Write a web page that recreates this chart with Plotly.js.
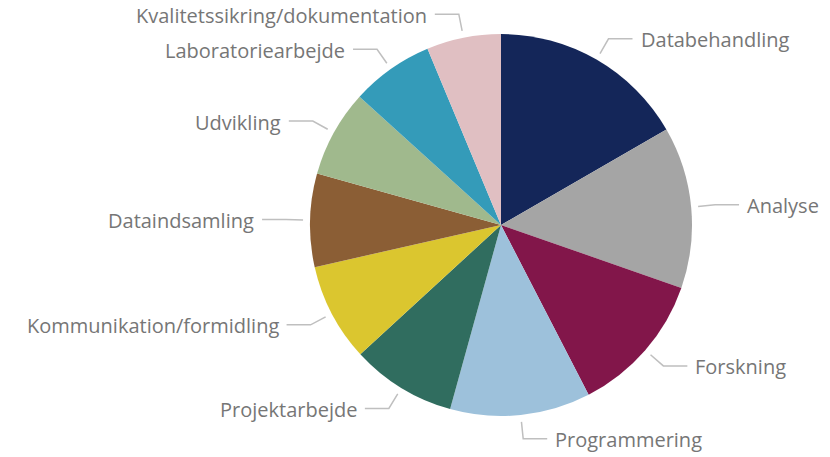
<!DOCTYPE html>
<html>
<head>
<meta charset="utf-8">
<script src="https://cdn.plot.ly/plotly-3.0.1.min.js"></script>
<style>
  html, body { margin: 0; padding: 0; background: #fff; }
  #chart { width: 830px; height: 457px; }
</style>
</head>
<body>
<div id="chart"></div>
<script>
// Kategorier og andele (aflæst fra figuren, i procent)
const kategorier = [
  'Databehandling', 'Analyse', 'Forskning', 'Programmering', 'Projektarbejde',
  'Kommunikation/formidling', 'Dataindsamling', 'Udvikling',
  'Laboratoriearbejde', 'Kvalitetssikring/dokumentation'
];
const andele = [16.7, 13.7, 12.1, 11.9, 8.9, 8.3, 7.9, 7.4, 7.0, 6.3];
const farver = [
  '#142659', '#A5A5A5', '#82164A', '#9DC1DB', '#306D5F',
  '#DBC62F', '#8B5E35', '#A0B98D', '#349BB9', '#E0BFC2'
];

// Geometri for cirklen (pixels)
const W = 830, H = 457;
const cx = 501, cy = 225, R = 191;

// hjælpere til at gå fra pixel til paper-koordinater
function px(x) { return x / W; }
function py(y) { return 1 - y / H; }

const total = andele.reduce((a, b) => a + b, 0);
const shapes = [];
const annotations = [];
let cum = 0;

andele.forEach((v, i) => {
  // midtervinkel for skiven, målt med uret fra kl. 12
  const mid = (cum + v / 2) / total * 2 * Math.PI;
  cum += v;
  const s = Math.sin(mid), c = Math.cos(mid);
  const x0 = cx + (R + 7) * s, y0 = cy - (R + 7) * c;
  const x1 = cx + (R + 24) * s, y1 = cy - (R + 24) * c;
  const right = s >= 0;
  const x2 = right ? x1 + 24 : x1 - 24;

  shapes.push({
    type: 'path',
    xref: 'paper', yref: 'paper',
    path: `M ${px(x0)},${py(y0)} L ${px(x1)},${py(y1)} L ${px(x2)},${py(y1)}`,
    line: { color: '#BFBFBF', width: 1.5 }
  });

  annotations.push({
    xref: 'paper', yref: 'paper',
    x: px(right ? x2 + 6 : x2 - 6),
    y: py(y1 + 1),
    xanchor: right ? 'left' : 'right',
    yanchor: 'middle',
    text: kategorier[i],
    showarrow: false,
    font: { family: 'Open Sans, Noto Sans, sans-serif', size: 20, color: '#767676' }
  });
});

const data = [{
  type: 'pie',
  labels: kategorier,
  values: andele,
  sort: false,
  direction: 'clockwise',
  rotation: 0,
  textinfo: 'none',
  hoverinfo: 'label+percent',
  marker: { colors: farver, line: { width: 0 } },
  domain: { x: [px(cx - R), px(cx + R)], y: [py(cy + R), py(cy - R)] },
  showlegend: false
}];

const layout = {
  width: W,
  height: H,
  margin: { l: 0, r: 0, t: 0, b: 0 },
  paper_bgcolor: '#ffffff',
  showlegend: false,
  shapes: shapes,
  annotations: annotations
};

Plotly.newPlot('chart', data, layout, { displayModeBar: false, staticPlot: true });
</script>
</body>
</html>
